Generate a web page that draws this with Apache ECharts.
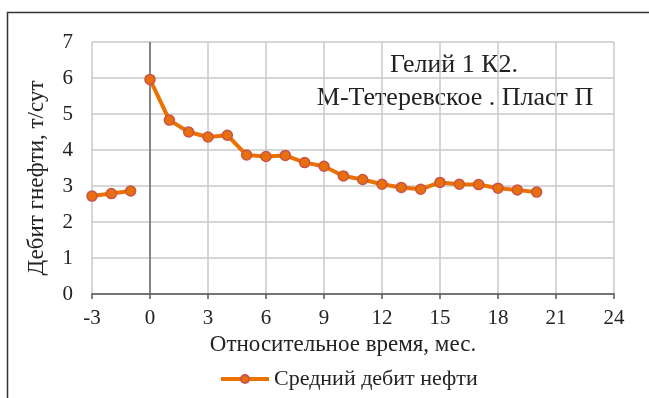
<!DOCTYPE html>
<html>
<head>
<meta charset="utf-8">
<script src="https://cdn.jsdelivr.net/npm/echarts@6/dist/echarts.min.js"></script>
<style>html,body{margin:0;padding:0;background:#fff;}#c{width:649px;height:398px;}</style>
</head>
<body>
<div id="c"></div>
<script>
const months = [-3,-2,-1,0,1,2,3,4,5,6,7,8,9,10,11,12,13,14,15,16,17,18,19,20];
const oilRate = [2.72,2.79,2.86,5.96,4.83,4.50,4.36,4.41,3.86,3.82,3.85,3.65,3.55,3.28,3.18,3.05,2.96,2.91,3.10,3.05,3.04,2.94,2.89,2.83];
const xTicks = [-3,0,3,6,9,12,15,18,21,24];
const yTicks = [0,1,2,3,4,5,6,7];
const seriesName = 'Средний дебит нефти';
const xAxisName = 'Относительное время, мес.';
const yAxisName = 'Дебит гнефти, т/сут';
const noteLines = ['Гелий 1 К2.', 'М-Тетеревское . Пласт П'];

const font = '"Liberation Serif", "DejaVu Serif", serif';
const chart = echarts.init(document.getElementById('c'), null, {renderer: 'canvas'});
const before = [], after = [];
months.forEach((m, i) => { (m < 0 ? before : after).push([m, oilRate[i]]); });

const xMin = xTicks[0], xMax = xTicks[xTicks.length - 1], xStep = xTicks[1] - xTicks[0];
const yMin = yTicks[0], yMax = yTicks[yTicks.length - 1], yStep = yTicks[1] - yTicks[0];

const lineSeries = (d, withZeroLine) => ({
  name: seriesName,
  type: 'line',
  data: d,
  symbol: 'circle',
  symbolSize: 10,
  lineStyle: {color: '#EB7100', width: 4},
  itemStyle: {color: '#E8700C', borderColor: '#C9534A', borderWidth: 1.5},
  z: 5,
  markLine: withZeroLine ? {
    silent: true, symbol: 'none', z: 3,
    label: {show: false},
    lineStyle: {color: '#6a6a6a', width: 1.5, type: 'solid'},
    data: [{xAxis: 0}]
  } : undefined
});

chart.setOption({
  animation: false,
  backgroundColor: '#fff',
  textStyle: {fontFamily: font},
  grid: {left: 92, right: 35, top: 42, bottom: 104},
  graphic: [
    {type: 'rect', shape: {x: 7.5, y: 12.5, width: 800, height: 500}, style: {fill: 'none', stroke: '#333', lineWidth: 1.5}, silent: true},
    {type: 'text', x: 454, y: 65, style: {text: noteLines[0], font: '26px ' + font, fill: '#222', align: 'center', verticalAlign: 'middle'}},
    {type: 'text', x: 455, y: 98, style: {text: noteLines[1], font: '26px ' + font, fill: '#222', align: 'center', verticalAlign: 'middle'}}
  ],
  legend: {
    show: true,
    left: 214, top: 363,
    itemWidth: 48, itemHeight: 10, itemGap: 4,
    lineStyle: {width: 4},
    textStyle: {fontFamily: font, fontSize: 22, color: '#222'},
    data: [seriesName]
  },
  xAxis: {
    type: 'value', min: xMin, max: xMax, interval: xStep,
    name: xAxisName, nameLocation: 'middle', nameGap: 38,
    nameTextStyle: {fontFamily: font, fontSize: 23, color: '#222', padding: [0, 20, 0, 0]},
    axisLine: {show: true, onZero: false, lineStyle: {color: '#555', width: 1.5}},
    axisTick: {show: true, length: 5, lineStyle: {color: '#555', width: 1.5}},
    axisLabel: {fontFamily: font, fontSize: 21, color: '#222', margin: 14},
    splitLine: {show: true, lineStyle: {color: '#c8c8c8', width: 1.5}}
  },
  yAxis: {
    type: 'value', min: yMin, max: yMax, interval: yStep, position: 'left',
    name: yAxisName, nameLocation: 'middle', nameGap: 44, nameRotate: 90,
    nameTextStyle: {fontFamily: font, fontSize: 23, color: '#222', padding: [0, 20, 0, 0]},
    axisLine: {show: false},
    axisTick: {show: false},
    axisLabel: {fontFamily: font, fontSize: 21, color: '#222', margin: 19},
    splitLine: {show: true, lineStyle: {color: '#c8c8c8', width: 1.5}}
  },
  series: [lineSeries(before, false), lineSeries(after, true)]
});
</script>
</body>
</html>
